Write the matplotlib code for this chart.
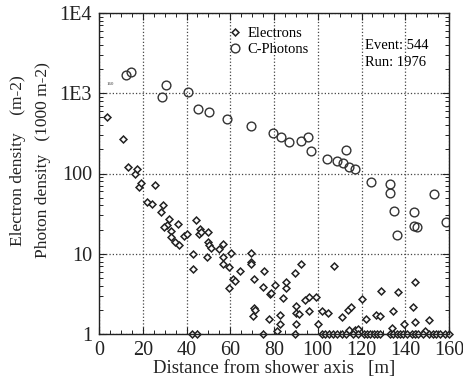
import matplotlib.pyplot as plt
from matplotlib.ticker import FixedLocator, FixedFormatter, LogLocator, MultipleLocator, NullFormatter

plt.rcParams['font.family'] = ['Liberation Serif', 'DejaVu Serif']

# electrons above the floor (distance m, density m-2)
el_x = [3.8, 10.8, 13.4, 16.4, 17.2, 18.3, 19.0, 25.6, 22.1, 24.3, 29.4, 28.2, 32.1, 30.9, 29.7,
        35.9, 32.9, 32.9, 34.7, 36.7, 38.7, 40.0, 44.2, 42.8, 42.8, 46.1, 45.7, 46.4, 49.6, 49.6,
        50.4, 51.1, 49.5, 54.8, 56.8, 56.5, 56.8, 60.3, 59.5, 59.5, 61.3, 62.1, 64.4, 69.4, 69.4,
        69.7, 70.9, 75.3, 75.0, 78.1, 80.4, 70.8, 71.2, 70.5, 77.6, 78.8, 82.6, 82.6, 81.5, 84.0,
        85.4, 85.7, 89.8, 92.5, 89.9, 90.1, 91.5, 90.0, 94.2, 96.0, 99.4, 95.8, 100.3, 102.0, 104.7,
        107.5, 111.0, 113.8, 115.2, 120.1, 114.5, 117.2, 118.4, 122.0, 126.8, 128.6, 129.0, 136.6,
        144.6, 134.4, 143.5, 144.3, 150.7, 139.5, 134.0, 148.9]
el_y = [508, 268, 120, 99, 114, 67, 76, 71, 44, 42, 41, 33, 27, 23, 21.8,
        23.7, 19.2, 16.3, 14.1, 12.8, 16.8, 17.5, 26.5, 10.0, 6.4, 20.2, 17.5, 18.5, 18.9, 14.2,
        12.9, 11.9, 9.0, 11.4, 13.1, 9.2, 7.4, 10.1, 6.9, 3.7, 4.85, 4.58, 6.15, 10.1, 7.95,
        7.4, 4.85, 6.1, 3.8, 3.13, 4.08, 2.13, 2.0, 1.68, 1.55, 3.2, 1.73, 1.33, 1.08, 2.77,
        3.75, 4.4, 5.8, 7.46, 2.23, 1.85, 1.76, 1.32, 2.62, 2.85, 2.86, 1.92, 1.32, 1.95, 1.82,
        7.1, 1.64, 1.97, 2.15, 2.71, 1.12, 1.12, 1.14, 1.52, 1.73, 1.69, 3.4, 3.3,
        4.4, 1.94, 2.17, 1.42, 1.5, 1.33, 1.19, 1.1]

# electrons sitting on the axis (density 1)
el0_x = [42.5, 45, 75, 89.5, 102, 103.5, 105, 107, 109, 111, 113, 116, 118.5, 121, 122.5, 124,
         125.5, 127, 128.5, 133, 134.5, 136, 137.5, 139, 141, 143, 144.5, 146, 148, 151, 152.5,
         154, 156, 158, 160]
el0_y = [1] * len(el0_x)

# C-photons (1000 m-2)
ph_x = [12.2, 14.5, 28.6, 30.6, 40.8, 45.1, 50.2, 58.3, 69.4, 79.6, 83.4, 86.8, 92.2, 95.6, 96.8,
        104.2, 108.8, 111.5, 112.8, 114.3, 116.9, 124.2, 133.2, 133.2, 134.7, 136.4, 143.8, 144.0,
        145.5, 153.0, 158.4]
ph_y = [1700, 1830, 910, 1250, 1050, 640, 590, 480, 395, 318, 282, 250, 255, 282, 190,
        152, 144, 134, 197, 119, 113, 78, 73, 57, 34, 17, 33, 22.4,
        21.8, 55, 25]

yticks = [1, 10, 100, 1000, 10000]
ylabels = ['1', '10', '100', '1E3', '1E4']

fig = plt.figure(figsize=(4.63, 3.82), dpi=100)
ax = fig.add_axes([99/463, 1-334/382, 350/463, 321/382])

ax.plot(el_x, el_y, 'D', ms=3.5, mfc='white', mec='#222222', mew=1.1, ls='none', label='Electrons')
ax.plot(el0_x, el0_y, 'D', ms=3.5, mfc='white', mec='#222222', mew=1.1, ls='none', clip_on=False)
ax.plot(ph_x, ph_y, 'o', ms=6.3, mfc='none', mec='#333333', mew=1.0, ls='none', label='C-Photons')

ax.set_yscale('log')
ax.set_xlim(0, 160)
ax.set_ylim(1, 10000)
ax.yaxis.set_major_locator(FixedLocator(yticks))
ax.yaxis.set_major_formatter(FixedFormatter(ylabels))
ax.yaxis.set_minor_locator(LogLocator(base=10, subs=range(2, 10)))
ax.yaxis.set_minor_formatter(NullFormatter())
ax.xaxis.set_major_locator(MultipleLocator(20))
ax.xaxis.set_minor_locator(MultipleLocator(5))

ax.tick_params(which='both', direction='in', top=True, right=True, labelsize=14.5, colors='#222222')
ax.tick_params(which='major', length=5, width=0.8, pad=5)
ax.tick_params(which='minor', length=3, width=0.7)
ax.grid(True, which='major', ls=':', lw=0.9, color='#444444')
for s in ax.spines.values():
    s.set_linewidth(1.0)
    s.set_color('#222222')

ax.set_xlabel('Distance from shower axis   [m]', fontsize=13.5, labelpad=0, color='#222222')
fig.text(0.038, 0.58, 'Electron density    (m-2)', rotation=90, ha='center', va='center', fontsize=12.5, color='#222222')
fig.text(0.093, 0.58, 'Photon density   (1000 m-2)', rotation=90, ha='center', va='center', fontsize=12.5, color='#222222')

ax.legend(loc='upper left', bbox_to_anchor=(0.35, 0.975), frameon=False, fontsize=10.5,
          handletextpad=0.4, borderaxespad=0, labelspacing=0.2, handlelength=1.0)
ax.text(0.76, 0.9, 'Event: 544', transform=ax.transAxes, fontsize=10.5, va='center')
ax.text(0.76, 0.845, 'Run: 1976', transform=ax.transAxes, fontsize=10.5, va='center')
ax.text(3.5, 1250, '160', fontsize=3.5, color='#333333')

fig.savefig('out.png', dpi=100)
